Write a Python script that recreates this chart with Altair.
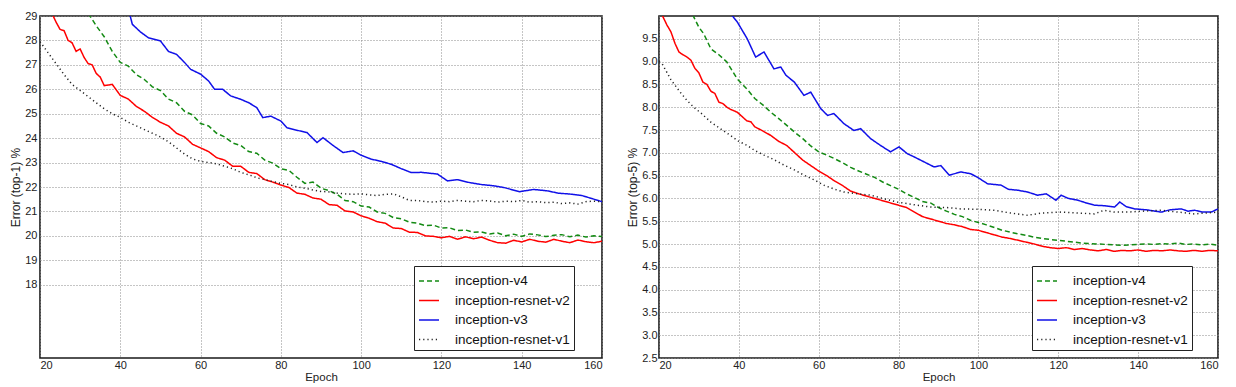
import altair as alt
import pandas as pd

SERIES = ["inception-v4", "inception-resnet-v2", "inception-v3", "inception-resnet-v1"]
COLORS = ["#138a13", "#ff0000", "#1010e8", "#222222"]
DASHES = [[5, 3], [1, 0], [1, 0], [1.2, 3]]
X_TICKS = [20, 40, 60, 80, 100, 120, 140, 160]
Y1_TICKS = [18, 19, 20, 21, 22, 23, 24, 25, 26, 27, 28, 29]
Y5_TICKS = [2.5, 3.0, 3.5, 4.0, 4.5, 5.0, 5.5, 6.0, 6.5, 7.0, 7.5, 8.0, 8.5, 9.0, 9.5]

# ---- top-1 panel (epoch, error %) ----
T1_V4 = [(32, 29.1), (33, 28.86), (34, 28.6), (36, 28.15), (38, 27.55), (40, 27.1), (42, 26.95),
         (44, 26.6), (46, 26.4), (48, 26.1), (50, 25.95), (52, 25.6), (54, 25.45), (56, 25.1),
         (58, 24.95), (60, 24.6), (62, 24.5), (64, 24.2), (66, 24.05), (68, 23.8), (70, 23.7),
         (72, 23.45), (74, 23.38), (76, 23.1), (78, 22.98), (80, 22.75), (82, 22.68), (84, 22.4),
         (86, 22.15), (88, 22.2), (90, 21.95), (92, 21.85), (94, 21.7), (96, 21.45), (98, 21.4),
         (100, 21.22), (102, 21.18), (104, 20.98), (106, 20.92), (108, 20.75), (110, 20.7),
         (112, 20.56), (114, 20.52), (116, 20.42), (118, 20.44), (120, 20.32), (122, 20.33),
         (124, 20.22), (126, 20.24), (128, 20.15), (130, 20.16), (132, 20.08), (134, 20.12),
         (136, 20.0), (138, 20.07), (140, 19.98), (142, 20.08), (144, 20.04), (146, 19.97),
         (148, 20.02), (150, 20.05), (152, 19.96), (154, 20.03), (156, 19.95), (158, 20.0), (160, 19.97)]
T1_RV2 = [(22, 29.45), (23, 29.1), (24, 28.75), (25, 28.45), (26, 28.4), (27, 28.0), (28, 27.9),
          (29, 27.55), (30, 27.65), (31, 27.3), (32, 27.05), (33, 27.0), (34, 26.65), (35, 26.5),
          (36, 26.15), (38, 26.2), (40, 25.75), (42, 25.6), (44, 25.3), (46, 25.1), (48, 24.85),
          (50, 24.65), (52, 24.5), (54, 24.2), (56, 24.05), (58, 23.75), (60, 23.6), (62, 23.45),
          (64, 23.2), (66, 23.1), (68, 22.85), (70, 22.85), (72, 22.6), (74, 22.55), (76, 22.3),
          (78, 22.2), (80, 22.08), (82, 21.98), (84, 21.75), (86, 21.7), (88, 21.55), (90, 21.5),
          (92, 21.28), (94, 21.25), (96, 21.02), (98, 20.98), (100, 20.82), (102, 20.72), (104, 20.58),
          (106, 20.52), (108, 20.32), (110, 20.3), (112, 20.15), (114, 20.14), (116, 20.0),
          (118, 19.98), (120, 19.92), (122, 19.98), (124, 19.86), (126, 19.96), (128, 19.88),
          (130, 19.95), (132, 19.82), (134, 19.72), (136, 19.7), (138, 19.82), (140, 19.75),
          (142, 19.86), (144, 19.78), (146, 19.74), (148, 19.86), (150, 19.78), (152, 19.72),
          (154, 19.83), (156, 19.76), (158, 19.72), (160, 19.78)]
T1_V3 = [(42, 29.3), (43, 28.66), (45, 28.35), (47, 28.11), (50, 27.98), (52, 27.55), (54, 27.43),
         (56, 27.1), (57.5, 26.82), (60, 26.62), (62, 26.34), (63.5, 26.0), (65.5, 26.0), (67.5, 25.73),
         (70, 25.59), (72, 25.45), (74, 25.25), (75.5, 24.84), (77.5, 24.9), (80, 24.7), (81.5, 24.43),
         (83, 24.36), (86.5, 24.23), (89, 23.82), (90.5, 24.02), (93, 23.7), (95.5, 23.41), (98, 23.48),
         (100, 23.3), (102.5, 23.14), (105, 23.05), (107.5, 22.93), (110, 22.75), (112.5, 22.59),
         (115, 22.6), (119, 22.53), (121.5, 22.25), (124, 22.3), (127, 22.18), (130, 22.1),
         (133, 22.05), (135.5, 21.98), (139.5, 21.81), (143, 21.9), (146.5, 21.84), (149, 21.75),
         (152, 21.71), (155, 21.65), (157, 21.55), (159, 21.45), (160, 21.4)]
T1_RV1 = [(20, 27.95), (22, 27.5), (24, 27.05), (26, 26.6), (28, 26.2), (30, 25.95), (32, 25.7),
          (34, 25.45), (36, 25.2), (38, 25.0), (40, 24.85), (42, 24.65), (44, 24.5), (46, 24.35),
          (48, 24.2), (50, 24.05), (52, 23.85), (54, 23.6), (56, 23.35), (58, 23.15), (60, 23.05),
          (62, 23.0), (64, 22.95), (66, 22.85), (68, 22.75), (70, 22.6), (72, 22.5), (74, 22.38),
          (76, 22.3), (78, 22.22), (80, 22.15), (82, 22.1), (84, 22.0), (86, 21.95), (88, 21.88),
          (90, 21.82), (92, 21.8), (94, 21.75), (96, 21.72), (98, 21.7), (100, 21.72), (102, 21.68),
          (104, 21.65), (106, 21.7), (108, 21.72), (110, 21.6), (112, 21.45), (114, 21.45),
          (116, 21.4), (118, 21.38), (120, 21.42), (122, 21.4), (124, 21.45), (126, 21.42),
          (128, 21.4), (130, 21.45), (132, 21.43), (134, 21.38), (136, 21.42), (138, 21.4),
          (140, 21.45), (142, 21.38), (144, 21.4), (146, 21.36), (148, 21.38), (150, 21.32),
          (152, 21.35), (154, 21.3), (156, 21.4), (158, 21.42), (160, 21.4)]

# ---- top-5 panel (epoch, error %) ----
T5_V4 = [(28, 10.2), (28.7, 9.98), (30, 9.75), (31.2, 9.61), (33, 9.28), (35, 9.15), (37, 8.99),
         (39.6, 8.62), (42, 8.4), (44, 8.19), (46, 8.05), (48, 7.89), (50, 7.75), (52, 7.6),
         (54, 7.45), (56, 7.31), (58, 7.15), (60, 7.02), (62, 6.95), (64, 6.87), (66, 6.78),
         (68, 6.68), (70, 6.6), (72, 6.53), (74, 6.46), (76, 6.36), (78, 6.28), (80, 6.2),
         (82, 6.1), (84, 6.02), (86, 5.93), (88, 5.9), (90, 5.8), (92, 5.72), (94, 5.65),
         (96, 5.6), (98, 5.52), (100, 5.47), (102, 5.42), (104, 5.36), (106, 5.3), (108, 5.26),
         (110, 5.22), (112, 5.19), (114, 5.15), (116, 5.12), (118, 5.1), (120, 5.08), (122, 5.06),
         (124, 5.04), (126, 5.02), (128, 5.01), (130, 5.0), (132, 4.99), (134, 4.98), (136, 4.97),
         (138, 4.98), (140, 4.99), (142, 5.0), (144, 4.99), (146, 5.01), (148, 5.0), (150, 5.02),
         (152, 4.99), (154, 5.0), (156, 4.98), (158, 5.0), (160, 4.97)]
T5_RV2 = [(20, 10.3), (21, 9.98), (22, 9.8), (23, 9.65), (24, 9.4), (25, 9.21), (26, 9.15),
          (27, 9.1), (28, 9.03), (29, 8.85), (30, 8.75), (31, 8.55), (32, 8.5), (33, 8.35),
          (34, 8.3), (35, 8.11), (36, 8.08), (37, 8.0), (38, 7.95), (39.6, 7.89), (41, 7.78),
          (42, 7.7), (43, 7.68), (44, 7.57), (46, 7.48), (48, 7.38), (50, 7.25), (52, 7.16),
          (54, 7.0), (56, 6.84), (58, 6.72), (60, 6.6), (62, 6.5), (64, 6.38), (66, 6.28),
          (68, 6.16), (70, 6.1), (72, 6.05), (74, 6.0), (76, 5.95), (78, 5.9), (80, 5.85),
          (82, 5.8), (84, 5.7), (86, 5.6), (88, 5.55), (90, 5.5), (92, 5.45), (94, 5.42),
          (96, 5.38), (98, 5.32), (100, 5.3), (102, 5.25), (104, 5.2), (106, 5.15), (108, 5.12),
          (110, 5.08), (112, 5.04), (114, 5.0), (116, 4.95), (118, 4.92), (120, 4.9), (122, 4.92),
          (124, 4.88), (126, 4.9), (128, 4.87), (130, 4.85), (132, 4.88), (134, 4.84), (136, 4.86),
          (138, 4.85), (140, 4.87), (142, 4.84), (144, 4.86), (146, 4.85), (148, 4.87), (150, 4.85),
          (152, 4.84), (154, 4.86), (156, 4.84), (158, 4.86), (160, 4.85)]
T5_V3 = [(36, 10.2), (38.4, 10.0), (39.6, 9.87), (42.1, 9.5), (44.2, 9.1), (46.3, 9.21), (48.8, 8.84),
         (50.5, 8.88), (51.8, 8.7), (53.9, 8.55), (56.3, 8.26), (58, 8.33), (60.5, 7.97), (62.2, 7.82),
         (63.8, 7.86), (66.3, 7.64), (68.8, 7.49), (70.5, 7.53), (73, 7.31), (75.5, 7.16), (78, 7.02),
         (80.1, 7.13), (82.2, 6.98), (83.9, 6.91), (86.4, 6.8), (88.9, 6.69), (90.6, 6.72), (92.7, 6.51),
         (95.6, 6.58), (98.1, 6.54), (100, 6.45), (102.3, 6.32), (105.7, 6.29), (107.5, 6.2),
         (109.8, 6.18), (112.3, 6.14), (114.8, 6.07), (117, 6.1), (119.4, 5.96), (120.7, 6.07),
         (122.5, 6.0), (124.9, 5.96), (127, 5.9), (129.1, 5.85), (131.5, 5.84), (134.1, 5.81),
         (135.4, 5.92), (137, 5.82), (139.1, 5.77), (142, 5.75), (145.8, 5.7), (148, 5.75),
         (150.8, 5.77), (152.5, 5.72), (154.2, 5.74), (156, 5.7), (158.3, 5.7), (160, 5.77)]
T5_RV1 = [(20, 9.0), (20.8, 8.95), (23, 8.6), (25.3, 8.33), (27, 8.15), (28.7, 8.0), (30.8, 7.85),
          (32.9, 7.68), (35, 7.55), (37.9, 7.38), (40, 7.25), (42.1, 7.16), (44, 7.05), (46.3, 6.95),
          (48.8, 6.85), (51.3, 6.73), (54, 6.62), (56.3, 6.51), (59, 6.4), (61.3, 6.29), (64, 6.2),
          (66.3, 6.14), (70, 6.1), (73, 6.07), (76, 6.0), (79.7, 5.92), (84, 5.86), (88, 5.81),
          (92, 5.8), (95.6, 5.77), (100, 5.76), (104, 5.74), (108, 5.68), (112.3, 5.63), (116, 5.68),
          (120.7, 5.7), (125, 5.68), (129, 5.66), (131.5, 5.74), (134, 5.7), (137.4, 5.7),
          (141, 5.72), (145.7, 5.74), (150, 5.7), (154.1, 5.66), (157, 5.68), (160, 5.7)]

FONT = "Liberation Sans"


def frame(curves):
    rows = []
    for name, pts in zip(SERIES, curves):
        for e, v in pts:
            rows.append({"series": name, "epoch": e, "err": v})
    return pd.DataFrame(rows)


def panel(df, ydom, yvals, yfmt, ytitle, w, lx, ly, lab_pad, title_pad):
    legend = alt.Legend(
        title=None, orient="none", legendX=lx, legendY=ly,
        symbolType="stroke", symbolSize=400, symbolStrokeWidth=1.5,
        labelFont=FONT, labelFontSize=13.5, labelColor="#111", labelOffset=15,
        rowPadding=1.5, padding=4, strokeColor="#222", fillColor="white",
        cornerRadius=0, labelLimit=300,
    )
    return alt.Chart(df).mark_line(clip=True, strokeWidth=1.5).encode(
        x=alt.X("epoch:Q",
                scale=alt.Scale(domain=[20, 160], nice=False, zero=False),
                axis=alt.Axis(values=X_TICKS, title="Epoch", format="d", labelPadding=1)),
        y=alt.Y("err:Q",
                scale=alt.Scale(domain=ydom, nice=False, zero=False),
                axis=alt.Axis(values=yvals, format=yfmt, title=ytitle,
                              labelPadding=lab_pad, titlePadding=title_pad)),
        color=alt.Color("series:N", sort=SERIES,
                        scale=alt.Scale(domain=SERIES, range=COLORS), legend=legend),
        strokeDash=alt.StrokeDash("series:N", sort=SERIES,
                                  scale=alt.Scale(domain=SERIES, range=DASHES), legend=legend),
    ).properties(width=w, height=342)


left = panel(frame([T1_V4, T1_RV2, T1_V3, T1_RV1]), [15, 29], Y1_TICKS, "d",
             "Error (top-1) %", 562, 374, 250, 3, 2)
right = panel(frame([T5_V4, T5_RV2, T5_V3, T5_RV1]), [2.5, 10], Y5_TICKS, ".1f",
              "Error (top-5) %", 559, 373, 250, 2, 2)

chart = alt.hconcat(left, right, spacing=22).resolve_scale(
    color="independent", strokeDash="independent", y="independent", x="independent"
).resolve_legend(color="independent", strokeDash="independent").configure(
    padding={"left": 0, "top": 1, "right": 2, "bottom": 0}
).configure_view(
    stroke="#1a1a1a", strokeWidth=1.6
).configure_axis(
    domain=False, ticks=False,
    grid=True, gridColor="#8a8a8a", gridDash=[1, 2], gridWidth=1,
    labelFont=FONT, labelFontSize=11, labelColor="#222", labelPadding=2,
    titleFont=FONT, titleFontSize=11.5, titleFontWeight="normal", titleColor="#222",
    titlePadding=1,
).configure_axisY(titleFontSize=12)

chart.save("out.html", embed_options={"renderer": "svg", "actions": False})
